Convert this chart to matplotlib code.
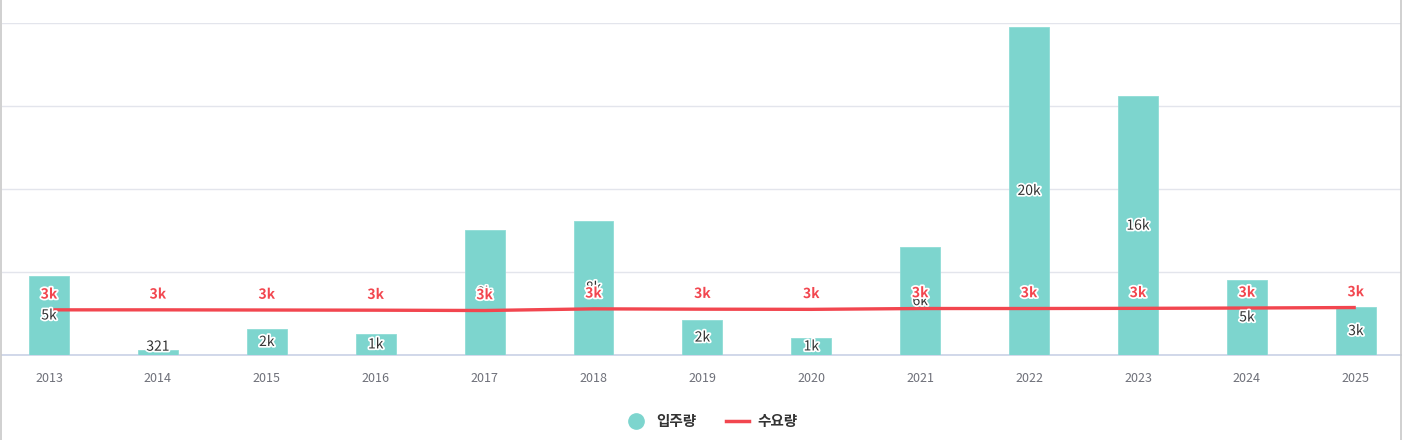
import matplotlib
matplotlib.use("Agg")
import matplotlib.pyplot as plt
import matplotlib.patheffects as pe
from matplotlib.lines import Line2D

plt.rcParams['font.family'] = ['Noto Sans CJK KR', 'DejaVu Sans']

years = ["2013", "2014", "2015", "2016", "2017", "2018", "2019",
         "2020", "2021", "2022", "2023", "2024", "2025"]
supply = [4760, 321, 1570, 1270, 7500, 8100, 2100, 1030, 6490, 19770, 15580, 4530, 2880]
demand = [2720, 2720, 2710, 2700, 2680, 2780, 2760, 2750, 2800, 2800, 2810, 2830, 2860]

BAR_COLOR = "#7dd5ce"
LINE_COLOR = "#f2464f"


def fmt(v):
    if v >= 1000:
        return f"{int(v / 1000 + 0.5)}k"
    return str(int(v))


fig = plt.figure(figsize=(14.03, 4.40), dpi=100)
ax = fig.add_axes([2 / 1403, 85 / 440, 1399 / 1403, 332 / 440])

x = list(range(len(years)))
ax.bar(x, supply, width=0.367, color=BAR_COLOR, edgecolor="#8fdcd6", linewidth=0.6, zorder=2)
ax.plot(x, demand, color=LINE_COLOR, linewidth=2.4, zorder=3, solid_capstyle="butt")

white = [pe.withStroke(linewidth=2.5, foreground="white")]
for xi, v in zip(x, supply):
    ax.text(xi, max(v / 2, 500), fmt(v), ha="center", va="center", fontsize=10,
            fontweight="medium", color="#333333", path_effects=white, zorder=4)
for xi, v in zip(x, demand):
    ax.annotate(fmt(v), (xi, v), xytext=(0, 11), textcoords="offset points",
                ha="center", va="center", fontsize=10, fontweight="bold", color=LINE_COLOR,
                path_effects=white, zorder=5)

ax.set_xlim((2 - 49) / 108.9, (1401 - 49) / 108.9)
ax.set_ylim(0, 20000)
ax.set_yticks([0, 5000, 10000, 15000, 20000])
ax.set_yticklabels([])
ax.tick_params(axis="y", length=0)
ax.set_xticks(x)
ax.set_xticklabels(years)
ax.tick_params(axis="x", length=0, pad=12, labelsize=9, labelcolor="#6e7079")
ax.grid(axis="y", color="#e3e5ec", linewidth=1, zorder=0)
ax.set_axisbelow(True)
for side in ["top", "right", "left"]:
    ax.spines[side].set_visible(False)
ax.spines["bottom"].set_color("#c9d2e6")
ax.spines["bottom"].set_linewidth(1.2)
ax.spines["bottom"].set_zorder(1)

# container border
fig.add_artist(Line2D([1 / 1403, 1 / 1403], [0, 1], color="#c8c8c8", linewidth=1.2))
fig.add_artist(Line2D([1401 / 1403, 1401 / 1403], [0, 1], color="#c8c8c8", linewidth=1.2))

handles = [
    Line2D([], [], marker="o", linestyle="none", markersize=11, color=BAR_COLOR),
    Line2D([], [], color=LINE_COLOR, linewidth=2.5),
]
fig.legend(handles, ["입주량", "수요량"], loc="center", bbox_to_anchor=(711 / 1403, 1 - 421 / 440),
           ncol=2, frameon=False, handlelength=1.6, columnspacing=2.0, handletextpad=0.6,
           prop={"size": 10.5, "weight": "bold"}, labelcolor="#333333")

fig.savefig("out.png", dpi=100)
